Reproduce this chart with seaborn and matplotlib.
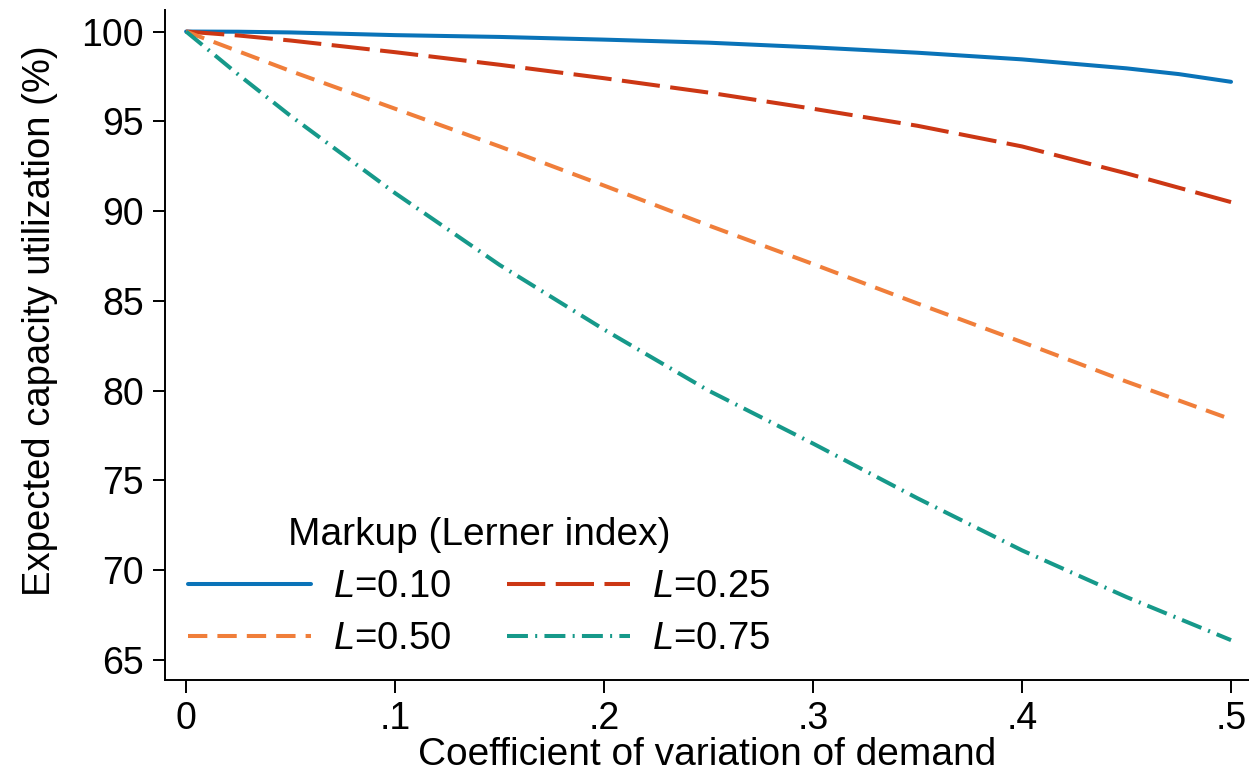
import numpy as np
import pandas as pd
import matplotlib
matplotlib.use("Agg")
import matplotlib.pyplot as plt
import seaborn as sns
from matplotlib.lines import Line2D

# ================================================================
# DATA
# ================================================================
cv = [0, 0.025, 0.05, 0.1, 0.15, 0.2, 0.25, 0.3, 0.35, 0.4, 0.45, 0.475, 0.5]

util_l010 = [100, 99.99, 99.95, 99.8, 99.7, 99.55, 99.38, 99.12, 98.82, 98.45, 97.95, 97.63, 97.2]
util_l025 = [100, 99.78, 99.5, 98.85, 98.15, 97.4, 96.6, 95.7, 94.75, 93.6, 92.1, 91.3, 90.5]
util_l050 = [100, 98.9, 97.8, 95.7, 93.6, 91.42, 89.2, 87.05, 84.85, 82.7, 80.5, 79.45, 78.4]
util_l075 = [100, 97.6, 95.3, 91.0, 87.0, 83.4, 80.0, 77.05, 74.0, 71.1, 68.5, 67.3, 66.1]

markups = ["L=0.10", "L=0.25", "L=0.50", "L=0.75"]
legend_labels = {"L=0.10": "$L$=0.10", "L=0.25": "$L$=0.25",
                 "L=0.50": "$L$=0.50", "L=0.75": "$L$=0.75"}

x_ticks = [0, 0.1, 0.2, 0.3, 0.4, 0.5]
x_ticklabels = ["0", ".1", ".2", ".3", ".4", ".5"]
y_ticks = [65, 70, 75, 80, 85, 90, 95, 100]

# ================================================================
# STYLE
# ================================================================
sns.set_theme(style="ticks")
plt.rcParams["font.family"] = ["Liberation Sans", "DejaVu Sans"]
plt.rcParams["mathtext.fontset"] = "custom"
plt.rcParams["mathtext.it"] = "Liberation Sans:italic"
plt.rcParams["mathtext.rm"] = "Liberation Sans"
plt.rcParams["text.color"] = "black"
plt.rcParams["axes.labelcolor"] = "black"

colors = {
    "L=0.10": "#0a73b8",
    "L=0.25": "#cc3714",
    "L=0.50": "#f07e3a",
    "L=0.75": "#16998a",
}
dashes = {
    "L=0.10": "",
    "L=0.25": (9.5, 2.6),
    "L=0.50": (4.8, 2.5),
    "L=0.75": (5.2, 1.8, 0.5, 1.8),
}

df = pd.DataFrame({
    "cv": cv * 4,
    "util": util_l010 + util_l025 + util_l050 + util_l075,
    "markup": [m for m in markups for _ in cv],
})

# ================================================================
# PLOT
# ================================================================
fig = plt.figure(figsize=(12.49, 7.74), dpi=100)
ax = fig.add_axes([165 / 1249, 1 - 680 / 774, (1249 - 165) / 1249, (680 - 10) / 774])

sns.lineplot(
    data=df, x="cv", y="util", hue="markup", style="markup",
    palette=colors, dashes=dashes, linewidth=2.9, legend=False, ax=ax,
)

ax.set_xlim(-0.0101, 0.5086)
ax.set_ylim(63.88, 101.2)
ax.set_xticks(x_ticks)
ax.set_xticklabels(x_ticklabels)
ax.set_yticks(y_ticks)
ax.tick_params(axis="both", labelsize=27, length=9, width=1.4, color="black",
               labelcolor="black", direction="out", pad=6)
for side in ["top", "right"]:
    ax.spines[side].set_visible(False)
for side in ["left", "bottom"]:
    ax.spines[side].set_linewidth(1.4)
    ax.spines[side].set_color("black")

ax.set_xlabel("Coefficient of variation of demand", fontsize=28, labelpad=0)
ax.set_ylabel("Expected capacity utilization (%)", fontsize=27.5, labelpad=10)
ax.yaxis.set_label_coords(-0.0985, 0.536)

# legend: row-wise order like the original (0.10, 0.25 / 0.50, 0.75)
order = ["L=0.10", "L=0.50", "L=0.25", "L=0.75"]
handles = [
    Line2D([], [], color=colors[m], linewidth=2.9,
           dashes=dashes[m] if dashes[m] else (None, None),
           linestyle="-")
    for m in order
]
leg = ax.legend(
    handles, [legend_labels[m] for m in order],
    title="Markup (Lerner index)", ncol=2,
    frameon=False, fontsize=27.5, title_fontsize=28,
    loc="lower left", bbox_to_anchor=(0.0, 0.0),
    handlelength=3.22, columnspacing=1.44, handletextpad=0.58,
    labelspacing=0.42, borderaxespad=0.2,
)

fig.savefig("out.png", dpi=100)
